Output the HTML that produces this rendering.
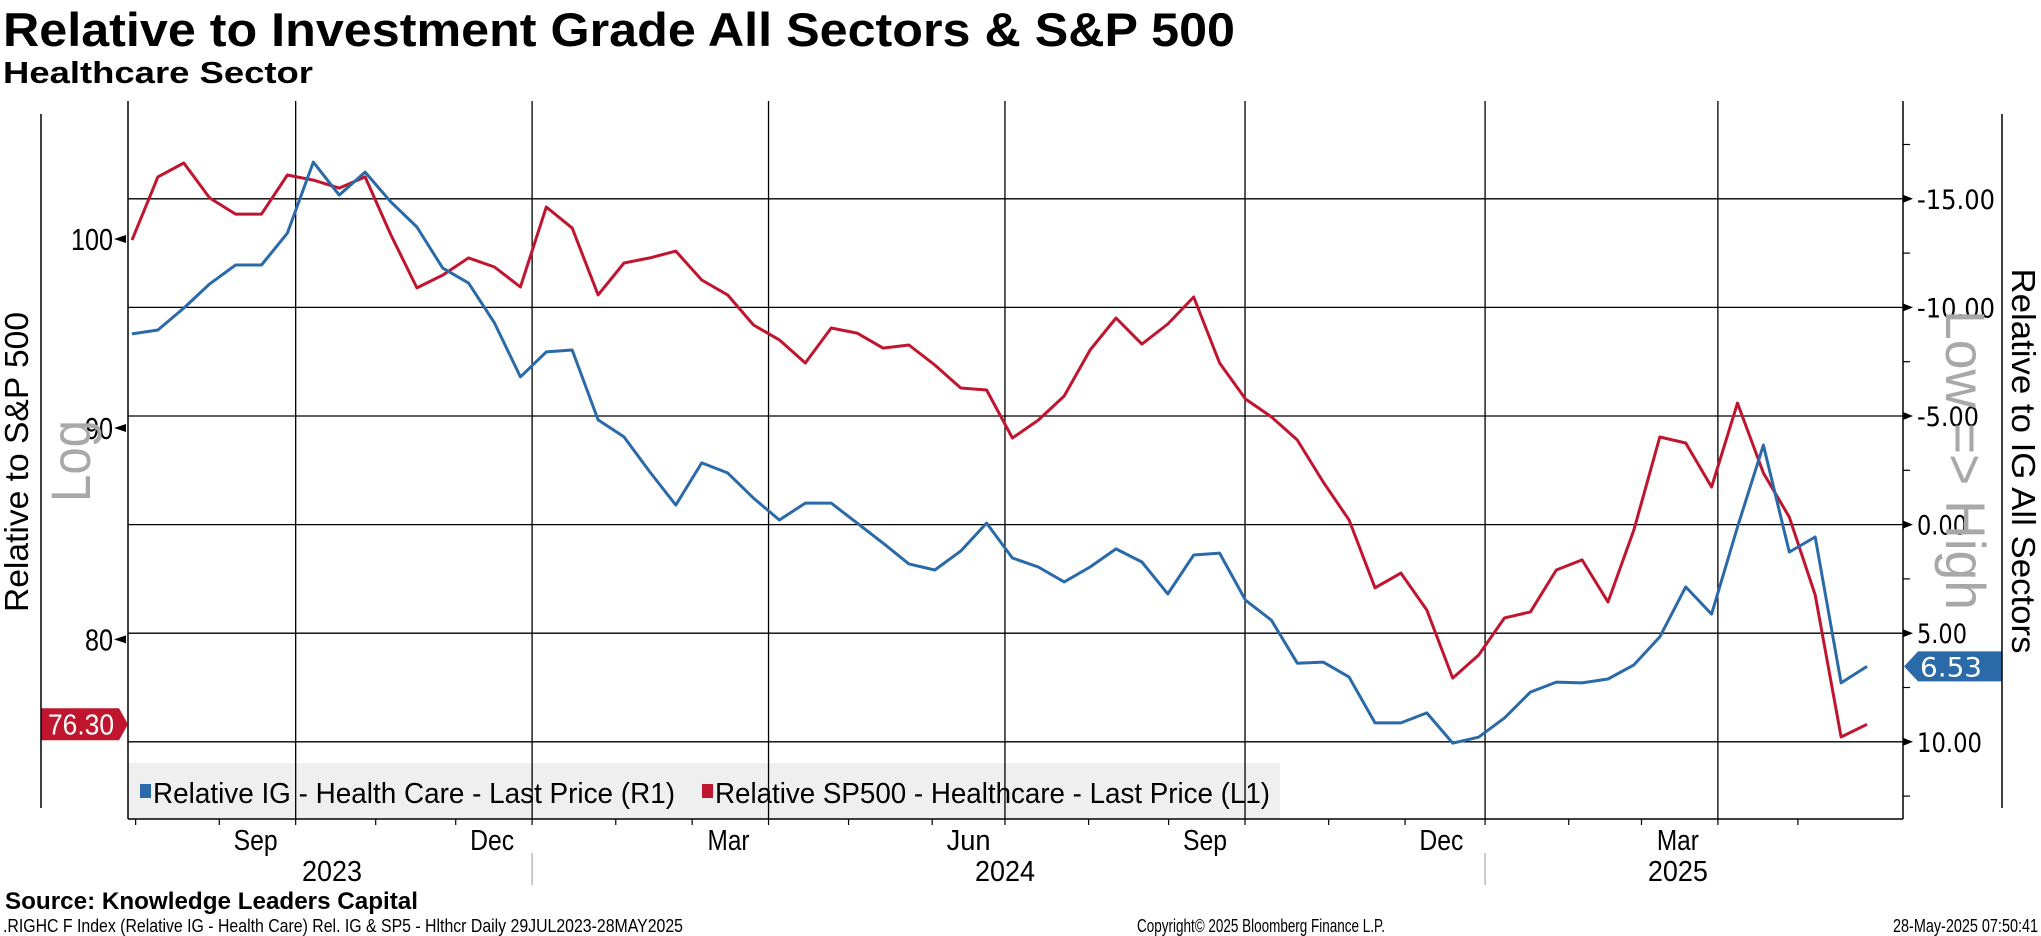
<!DOCTYPE html>
<html><head><meta charset="utf-8"><style>
html,body{margin:0;padding:0;background:#fff;}
svg{display:block;font-family:"Liberation Sans Narrow","Liberation Sans",sans-serif;}
</style></head><body>
<svg id="chart" width="2041" height="936" viewBox="0 0 2041 936" xmlns="http://www.w3.org/2000/svg">
<rect x="0" y="0" width="2041" height="936" fill="#fff"/>
<text x="3" y="46" font-family="Liberation Sans" font-weight="bold" font-size="47" textLength="1232" lengthAdjust="spacingAndGlyphs">Relative to Investment Grade All Sectors &amp; S&amp;P 500</text>
<text x="3" y="83" font-family="Liberation Sans" font-weight="bold" font-size="31" textLength="310" lengthAdjust="spacingAndGlyphs">Healthcare Sector</text>
<rect x="128" y="763" width="1152" height="56" fill="#efefef"/>
<g id="grid"></g>
<g id="series"></g>
<g id="axes"></g>
<rect x="140" y="784" width="11" height="14" fill="#2a6aa8"/>
<text x="153" y="803" font-size="29" textLength="522" lengthAdjust="spacingAndGlyphs">Relative IG - Health Care - Last Price (R1)</text>
<rect x="702" y="784" width="11" height="14" fill="#c0152f"/>
<text x="715" y="803" font-size="29" textLength="555" lengthAdjust="spacingAndGlyphs">Relative SP500 - Healthcare - Last Price (L1)</text>
<text transform="translate(28,462) rotate(-90)" text-anchor="middle" font-size="33" textLength="300" lengthAdjust="spacingAndGlyphs">Relative to S&amp;P 500</text>
<text transform="translate(90,461) rotate(-90)" text-anchor="middle" font-size="56" fill="#a8a8a8" textLength="82" lengthAdjust="spacingAndGlyphs">Log</text>
<text transform="translate(2012,461) rotate(90)" text-anchor="middle" font-size="33" textLength="385" lengthAdjust="spacingAndGlyphs">Relative to IG All Sectors</text>
<text transform="translate(1946,460) rotate(90)" text-anchor="middle" font-size="56" fill="#a8a8a8" textLength="300" lengthAdjust="spacingAndGlyphs">Low =&gt; High</text>
<line x1="41" y1="114" x2="41" y2="808" stroke="#000" stroke-width="1.5"/>
<line x1="2002" y1="114" x2="2002" y2="808" stroke="#000" stroke-width="1.5"/>
<text x="5" y="909" font-family="Liberation Sans" font-weight="bold" font-size="24" textLength="413" lengthAdjust="spacingAndGlyphs">Source: Knowledge Leaders Capital</text>
<text x="3" y="932" font-size="18" textLength="680" lengthAdjust="spacingAndGlyphs">.RIGHC F Index (Relative IG - Health Care) Rel. IG &amp; SP5 - Hlthcr  Daily 29JUL2023-28MAY2025</text>
<text x="1137" y="932" font-size="18" textLength="248" lengthAdjust="spacingAndGlyphs">Copyright© 2025 Bloomberg Finance L.P.</text>
<text x="2038" y="932" font-size="18" text-anchor="end" textLength="145" lengthAdjust="spacingAndGlyphs">28-May-2025 07:50:41</text>
</svg>
<script>
// ---- data (evenly spaced in trading days, 31 Jul 2023 .. 28 May 2025) ----
const sp500Values = [99.94,103.52,104.33,102.31,101.40,101.40,103.63,103.34,102.88,103.52,100.22,97.31,98.01,98.95,98.45,97.36,101.80,100.61,96.93,98.67,98.95,99.33,97.74,96.93,95.32,94.53,93.32,95.16,94.89,94.10,94.26,93.22,92.03,91.93,89.50,90.40,91.62,94.00,95.69,94.31,95.37,96.82,93.32,91.47,90.56,89.40,87.33,85.50,82.33,83.01,81.32,78.29,79.30,80.96,81.23,83.15,83.62,81.68,85.03,89.55,89.25,87.09,91.26,87.77,85.64,82.00,75.76,76.30];
const igValues = [-8.78,-8.96,-9.97,-11.08,-11.95,-11.95,-13.42,-16.69,-15.17,-16.23,-14.85,-13.70,-11.81,-11.12,-9.28,-6.80,-7.95,-8.04,-4.82,-4.04,-2.42,-0.90,-2.84,-2.38,-1.22,-0.21,-0.99,-0.99,-0.07,0.85,1.81,2.09,1.22,-0.07,1.54,1.95,2.64,1.95,1.12,1.72,3.19,1.40,1.31,3.48,4.40,6.38,6.33,7.02,9.13,9.13,8.67,10.06,9.79,8.90,7.71,7.25,7.29,7.11,6.46,5.17,2.87,4.12,0.11,-3.66,1.26,0.57,7.29,6.53];
const leftTicks = [100, 90, 80];
const rightTicks = [-15, -10, -5, 0, 5, 10];
const rightMinorTicks = [-17.5, -12.5, -7.5, -2.5, 2.5, 7.5, 12.5];
const monthLabels = ["Sep","Dec","Mar","Jun","Sep","Dec","Mar"];
const monthLabelDates = ["2023-09-15","2023-12-15","2024-03-15","2024-06-15","2024-09-15","2024-12-15","2025-03-15"];
const quarterDates = ["2023-10-01","2024-01-01","2024-04-01","2024-07-01","2024-10-01","2025-01-01","2025-04-01"];
const monthTickDates = ["2023-08-01","2023-09-01","2023-10-01","2023-11-01","2023-12-01","2024-01-01","2024-02-01","2024-03-01","2024-04-01","2024-05-01","2024-06-01","2024-07-01","2024-08-01","2024-09-01","2024-10-01","2024-11-01","2024-12-01","2025-01-01","2025-02-01","2025-03-01","2025-04-01","2025-05-01"];
const yearLabels = ["2023","2024","2025"];
const yearLabelDates = ["2023-10-15","2024-07-01","2025-03-15"];
const yearSepDates = ["2024-01-01","2025-01-01"];

// ---- scales ----
const PL = 128, PR = 1903, PT = 101, PB = 819;
const X0 = 132, X1 = 1867;
const START = new Date("2023-07-31T00:00:00Z");
function weekdaysSince(d) {
  const ms = 86400000;
  const days = Math.round((d - START) / ms);
  const w = Math.floor(days / 7);
  let r = days % 7, extra = 0;
  for (let k = 0; k < r; k++) { if (k < 5) extra++; }
  return w * 5 + extra;
}
const TOTAL_WD = weekdaysSince(new Date("2025-05-28T00:00:00Z"));
function xDate(s) { return X0 + weekdaysSince(new Date(s + "T00:00:00Z")) * (X1 - X0) / TOTAL_WD; }
function xIdx(i, n) { return X0 + i * (X1 - X0) / (n - 1); }
function yLeft(v) { return 239 - 1794 * Math.log(v / 100); }
function yRight(v) { return 524.6 + 21.72 * v; }

const NS = "http://www.w3.org/2000/svg";
function mk(tag, attrs, parent) {
  const e = document.createElementNS(NS, tag);
  for (const k in attrs) e.setAttribute(k, attrs[k]);
  parent.appendChild(e);
  return e;
}
const grid = document.getElementById("grid");
const series = document.getElementById("series");
const axes = document.getElementById("axes");

rightTicks.forEach(v => {
  const y = yRight(v);
  const l = mk("line", {x1: PL, y1: y, x2: PR, y2: y, stroke: "#000", "stroke-width": 1.3}, grid);
  
  
});
quarterDates.forEach(d => {
  const x = xDate(d);
  const l = mk("line", {x1: x, y1: PT, x2: x, y2: PB, stroke: "#000", "stroke-width": 1.3}, grid);
  
  
});

function pathFrom(vals, yf) {
  return vals.map((v, i) => (i ? "L" : "M") + xIdx(i, vals.length).toFixed(1) + " " + yf(v).toFixed(1)).join(" ");
}
const pRed = mk("path", {d: pathFrom(sp500Values, yLeft), fill: "none", stroke: "#c0152f", "stroke-width": 3, "stroke-linejoin": "round"}, series);


const pBlue = mk("path", {d: pathFrom(igValues, yRight), fill: "none", stroke: "#2a6aa8", "stroke-width": 3, "stroke-linejoin": "round"}, series);



const la = mk("line", {x1: PL, y1: PT, x2: PL, y2: PB, stroke: "#000", "stroke-width": 1.5}, axes);


const ra = mk("line", {x1: PR, y1: PT, x2: PR, y2: PB, stroke: "#000", "stroke-width": 1.5}, axes);


const ba = mk("line", {x1: PL, y1: PB, x2: PR, y2: PB, stroke: "#000", "stroke-width": 1.5}, axes);



leftTicks.forEach(v => {
  const y = yLeft(v);
  const a = mk("polygon", {points: `${PL-14},${y} ${PL-2},${y-4} ${PL-2},${y+4}`, fill: "#000"}, axes);
  
  
  const t = mk("text", {x: PL - 15, y: y + 11, "text-anchor": "end", "font-size": 31, textLength: v >= 100 ? 42 : 28, lengthAdjust: "spacingAndGlyphs"}, axes);
  t.textContent = String(v);
  
  
});
rightTicks.forEach(v => {
  const y = yRight(v);
  const a = mk("polygon", {points: `${PR+10},${y} ${PR},${y-4} ${PR},${y+4}`, fill: "#000"}, axes);
  
  
  const t = mk("text", {x: 1917, y: y + 10, "font-size": 27, "font-family": "DejaVu Sans", textLength: v < 0 ? (v <= -10 ? 78 : 62) : (v >= 10 ? 65 : 50), lengthAdjust: "spacingAndGlyphs"}, axes);
  t.textContent = (v < 0 ? "-" : "") + Math.abs(v).toFixed(2);
  
  
});
rightMinorTicks.forEach(v => {
  const y = yRight(v);
  const l = mk("line", {x1: PR, y1: y, x2: PR + 7, y2: y, stroke: "#000", "stroke-width": 1.2}, axes);
  
  
});

monthTickDates.forEach(d => {
  const x = xDate(d);
  const l = mk("line", {x1: x, y1: PB, x2: x, y2: PB + 6, stroke: "#000", "stroke-width": 1.2}, axes);
  
  
});
monthLabels.forEach((m, i) => {
  const t = mk("text", {x: xDate(monthLabelDates[i]), y: 850, "text-anchor": "middle", "font-size": 29, textLength: m === "Mar" ? 42 : 44, lengthAdjust: "spacingAndGlyphs"}, axes);
  t.textContent = m;
  
  
});
yearLabels.forEach((yl, i) => {
  const t = mk("text", {x: xDate(yearLabelDates[i]), y: 881, "text-anchor": "middle", "font-size": 29, textLength: 60, lengthAdjust: "spacingAndGlyphs"}, axes);
  t.textContent = yl;
  
  
});
yearSepDates.forEach(d => {
  const x = xDate(d);
  const l = mk("line", {x1: x, y1: 853, x2: x, y2: 885, stroke: "#999", "stroke-width": 1}, axes);
  
  
});

const lastIG = igValues[igValues.length - 1];
const yb = yRight(lastIG);
const bb = mk("polygon", {points: `1904,${yb} 1918,${yb-15} 2002,${yb-15} 2002,${yb+15} 1918,${yb+15}`, fill: "#2a6aa8"}, axes);


const bt = mk("text", {x: 1920, y: yb + 10, fill: "#fff", "font-size": 27, "font-family": "DejaVu Sans", textLength: 62, lengthAdjust: "spacingAndGlyphs"}, axes);
bt.textContent = lastIG.toFixed(2);


const lastSP = sp500Values[sp500Values.length - 1];
const yr = yLeft(lastSP);
const rb = mk("polygon", {points: `41,${yr-16} 119,${yr-16} 128,${yr} 119,${yr+16} 41,${yr+16}`, fill: "#c0152f"}, axes);


const rt = mk("text", {x: 48, y: yr + 10, fill: "#fff", "font-size": 29, textLength: 66, lengthAdjust: "spacingAndGlyphs"}, axes);
rt.textContent = lastSP.toFixed(2);


</script>
</body></html>
